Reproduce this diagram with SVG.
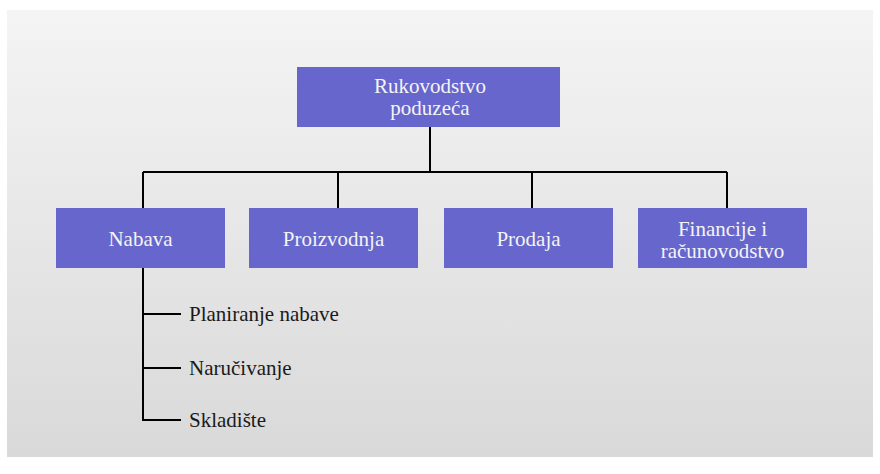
<svg xmlns="http://www.w3.org/2000/svg" width="880" height="474" viewBox="0 0 880 474">
  <defs>
    <linearGradient id="bg" x1="0" y1="0" x2="0" y2="1">
      <stop offset="0" stop-color="#f4f4f4"/>
      <stop offset="1" stop-color="#d9d9d9"/>
    </linearGradient>
  </defs>
  <style>
    .box { fill: #6666cc; }
    text { font-family: 'Liberation Serif', 'DejaVu Serif', serif; font-size: 21px; }
    .bt { fill: #f4f4f4; text-anchor: middle; }
    .lt { fill: #1a1a1a; }
    .ln { stroke: #000; stroke-width: 2; fill: none; }
  </style>
  <rect x="0" y="0" width="880" height="474" fill="#ffffff"/>
  <rect x="7" y="10" width="866" height="447" fill="url(#bg)"/>

  <g id="connectors">
    <path class="ln" d="M430 127 V172 M143 172 H727 M143 172 V208 M338 172 V208 M532 172 V208 M727 172 V208"/>
    <path class="ln" d="M143 268 V420 H181 M143 314 H181 M143 368 H181"/>
  </g>

  <g id="rukovodstvo">
    <rect class="box" x="297" y="67" width="263" height="60"/>
    <text class="bt" x="430" y="93">Rukovodstvo</text>
    <text class="bt" x="430" y="115">poduzeća</text>
  </g>
  <g id="nabava">
    <rect class="box" x="56" y="208" width="169" height="60"/>
    <text class="bt" x="140.5" y="246">Nabava</text>
  </g>
  <g id="proizvodnja">
    <rect class="box" x="249" y="208" width="169" height="60"/>
    <text class="bt" x="333.5" y="246">Proizvodnja</text>
  </g>
  <g id="prodaja">
    <rect class="box" x="444" y="208" width="169" height="60"/>
    <text class="bt" x="528.5" y="246">Prodaja</text>
  </g>
  <g id="financije">
    <rect class="box" x="638" y="208" width="169" height="60"/>
    <text class="bt" x="722.5" y="236">Financije i</text>
    <text class="bt" x="722.5" y="258">računovodstvo</text>
  </g>
  <g id="planiranje">
    <text class="lt" x="189" y="321">Planiranje nabave</text>
  </g>
  <g id="narucivanje">
    <text class="lt" x="189" y="375">Naručivanje</text>
  </g>
  <g id="skladiste">
    <text class="lt" x="189" y="427">Skladište</text>
  </g>
</svg>
